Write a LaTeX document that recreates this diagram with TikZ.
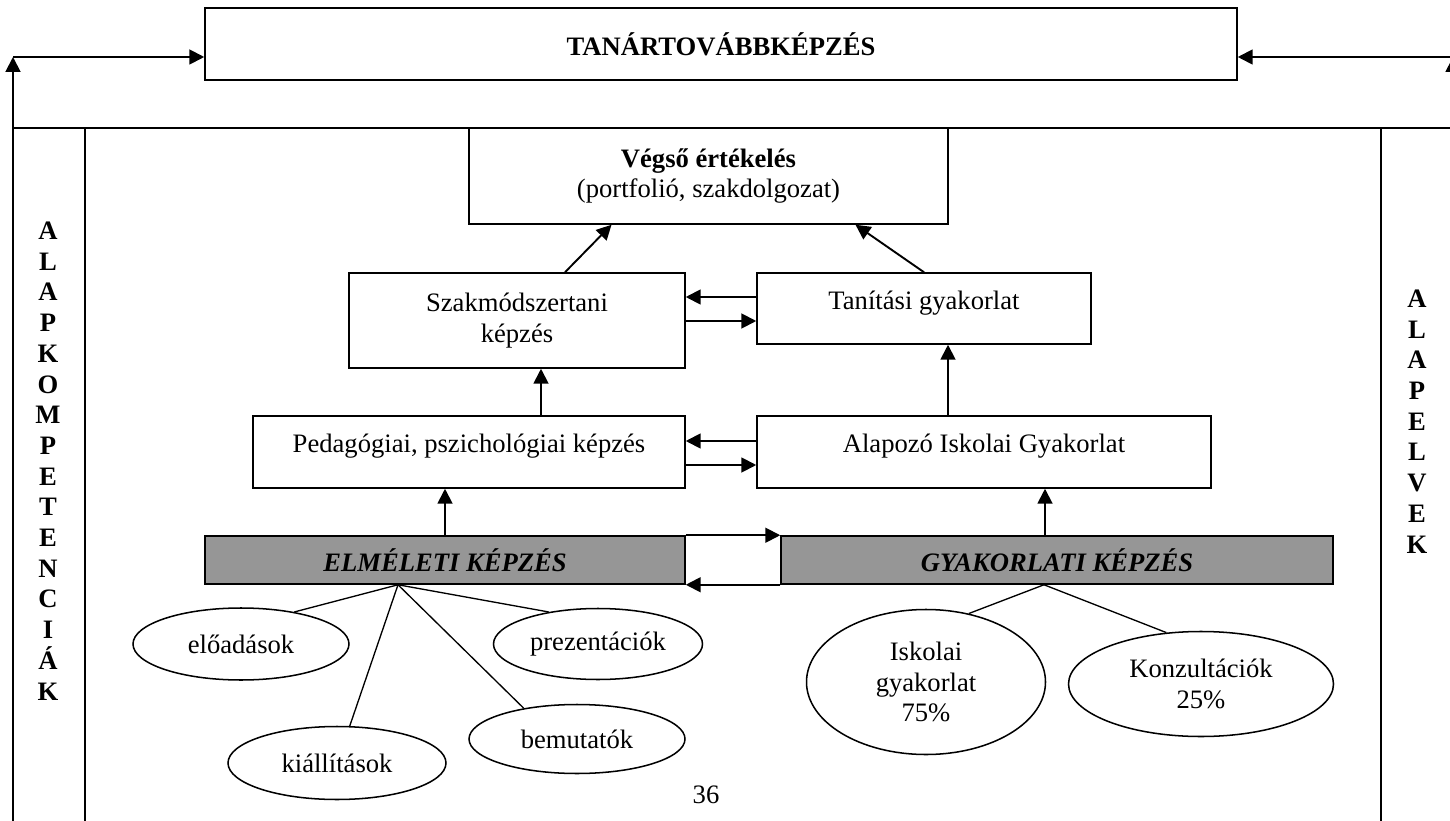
\documentclass[tikz,border=0pt]{standalone}
\usepackage{fontspec}
\setmainfont{Liberation Serif}
\usetikzlibrary{arrows.meta,positioning,shapes.geometric,calc}
\definecolor{kepGray}{HTML}{969696}
\definecolor{kepInk}{HTML}{000000}
\newlength{\pxu}
\setlength{\pxu}{0.526pt}
\tikzset{
  kepArrow/.style={-{Triangle[length=7.8pt,width=7.8pt]}, line width=1pt, draw=kepInk},
  kepLine/.style={line width=0.7pt, draw=kepInk},
  kepFrame/.style={line width=0.9pt, draw=kepInk},
  kepBox/.style={
    draw=kepInk,
    fill=white,
    line width=0.8pt,
    align=center,
    inner sep=0pt
  },
  kepTop/.style={text depth=9pt},
  kepBar/.style={
    kepBox,
    fill=kepGray,
    font=\fontsize{14}{16}\selectfont\bfseries\itshape
  },
  kepOval/.style={
    ellipse,
    draw=kepInk,
    fill=white,
    line width=0.8pt,
    align=center,
    inner sep=0pt
  },
  kepLetters/.style={align=center, font=\fontsize{14}{16.15}\selectfont\bfseries}
}

\begin{document}
\begin{tikzpicture}[x=0.526pt, y=-0.526pt, font=\fontsize{14}{16}\selectfont]
  \useasboundingbox (0,0) rectangle (1450,821);

  % header and frame
  \node[kepBox, minimum width=1032\pxu, minimum height=72\pxu, font=\fontsize{14}{16}\selectfont\bfseries] (tanar) at (721,44) {TANÁRTOVÁBBKÉPZÉS};
  \coordinate (lcorner) at (13,57);
  \coordinate (lfoot) at (13,830);
  \coordinate (rcorner) at (1453,57);
  \coordinate (rfoot) at (1453,830);
  \coordinate (frameL) at (13,128);
  \coordinate (frameR) at (1460,128);
  \coordinate (colL) at (85,128);
  \coordinate (colR) at (1381,128);

  \draw[kepArrow] (lfoot) -- (lcorner);
  \draw[kepArrow] (lcorner) -- (lcorner -| tanar.west);
  \draw[kepArrow] (rfoot) -- (rcorner);
  \draw[kepArrow] (rcorner) -- (rcorner -| tanar.east);
  \draw[kepFrame] (frameL) -- (frameR);
  \draw[kepFrame] (colL) -- (colL |- lfoot);
  \draw[kepFrame] (colR) -- (colR |- lfoot);

  \node[kepLetters] (kompetencia) at (48,461) {A\\L\\A\\P\\K\\O\\M\\P\\E\\T\\E\\N\\C\\I\\Á\\K};
  \node[kepLetters] (elvek) at (1417,421.5) {A\\L\\A\\P\\E\\L\\V\\E\\K};

  % boxes
  \node[kepBox, minimum width=479\pxu, minimum height=96\pxu] (vegso) at (708.5,176) {\textbf{Végső értékelés}\\(portfolió, szakdolgozat)};
  \node[kepBox, minimum width=336\pxu, minimum height=95\pxu] (szak) at (517,320.5) {Szakmódszertani\\képzés};
  \node[kepBox, kepTop, minimum width=334\pxu, minimum height=71\pxu] (tanit) at (924,308.5) {Tanítási gyakorlat};
  \node[kepBox, kepTop, minimum width=432\pxu, minimum height=72\pxu] (pedpszi) at (469,452) {Pedagógiai, pszichológiai képzés};
  \node[kepBox, kepTop, minimum width=454\pxu, minimum height=72\pxu] (alapozo) at (984,452) {Alapozó Iskolai Gyakorlat};
  \node[kepBar, minimum width=480\pxu, minimum height=48\pxu] (elmelet) at (445,560) {ELMÉLETI KÉPZÉS};
  \node[kepBar, minimum width=552\pxu, minimum height=48\pxu] (gyak) at (1057,560) {GYAKORLATI KÉPZÉS};

  % ovals
  \node[kepOval, minimum width=216\pxu, minimum height=72\pxu] (eload) at (241,644) {előadások};
  \node[kepOval, minimum width=209\pxu, minimum height=71\pxu] (prez) at (598,644) {prezentációk};
  \node[kepOval, minimum width=218\pxu, minimum height=73\pxu] (kiall) at (337,763) {kiállítások};
  \node[kepOval, minimum width=216\pxu, minimum height=69\pxu] (bemut) at (577,739) {bemutatók};
  \node[kepOval, minimum width=239\pxu, minimum height=145\pxu] (iskola) at (926,682) {Iskolai\\gyakorlat\\75\%};
  \node[kepOval, minimum width=265\pxu, minimum height=105\pxu] (konz) at (1201,684) {Konzultációk\\25\%};

  \node (oldal) at (706,795) {36};

  % arrows up
  \draw[kepArrow] ($(szak.north)+(48,0)$) -- ($(vegso.south)+(-97,0)$);
  \draw[kepArrow] (tanit.north) -- ($(vegso.south)+(147,0)$);
  \coordinate (ps) at ($(szak.south)+(24,0)$);
  \draw[kepArrow] (pedpszi.north -| ps) -- (ps);
  \coordinate (at) at ($(tanit.south)+(24,0)$);
  \draw[kepArrow] (alapozo.north -| at) -- (at);
  \draw[kepArrow] (elmelet.north) -- (elmelet.north |- pedpszi.south);
  \coordinate (ga) at ($(gyak.north)+(-12,0)$);
  \draw[kepArrow] (ga) -- (ga |- alapozo.south);

  % arrows across
  \coordinate (ts1) at ($(tanit.west)+(0,-11.5)$);
  \coordinate (ts2) at ($(tanit.west)+(0,12.5)$);
  \draw[kepArrow] (ts1) -- (szak.east |- ts1);
  \draw[kepArrow] (szak.east |- ts2) -- (ts2);
  \coordinate (ap1) at ($(alapozo.west)+(0,-11)$);
  \coordinate (ap2) at ($(alapozo.west)+(0,13)$);
  \draw[kepArrow] (ap1) -- (pedpszi.east |- ap1);
  \draw[kepArrow] (pedpszi.east |- ap2) -- (ap2);
  \draw[kepArrow] (elmelet.north east) -- (gyak.north west);
  \draw[kepArrow] (gyak.south west) -- (elmelet.south east);

  % fan lines
  \coordinate (efan) at ($(elmelet.south)+(-47,0)$);
  \draw[kepLine] (efan) -- (eload.31);
  \draw[kepLine] (efan) -- (prez.147);
  \draw[kepLine] (efan) -- (kiall.71);
  \draw[kepLine] (efan) -- (bemut.150);
  \coordinate (gfan) at ($(gyak.south)+(-13,0)$);
  \draw[kepLine] (gfan) -- (iskola.58);
  \draw[kepLine] (gfan) -- (konz.124);
\end{tikzpicture}
\end{document}
